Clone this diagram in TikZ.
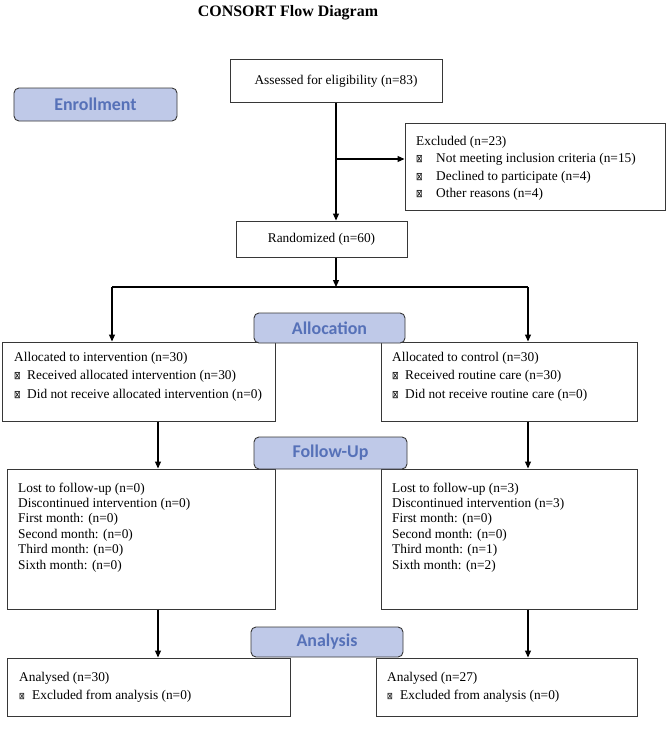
\documentclass[tikz,border=0pt]{standalone}
\usepackage{fontspec}
\setmainfont{Liberation Serif}
\newfontfamily\labfont{Carlito}
\newfontfamily\symfont{DejaVu Sans}
\usetikzlibrary{arrows.meta}
\definecolor{labfill}{RGB}{191,201,232}
\definecolor{labtext}{RGB}{86,113,184}
\definecolor{boxline}{RGB}{55,55,55}
\newcommand{\myxbox}{{\symfont\fontsize{11}{11}\selectfont\scalebox{0.72}[1]{⊠}}}
\newcommand{\smxbox}{{\symfont\fontsize{9.5}{9.5}\selectfont\scalebox{0.72}[1]{⊠}}}
\begin{document}
\begin{tikzpicture}[x=1bp,y=-1bp,
  box/.style={draw=boxline, line width=1bp, rectangle, inner sep=0},
  lab/.style={draw=boxline, fill=labfill, rounded corners=5bp, line width=0.9bp, inner sep=0,
    font=\labfont\bfseries\fontsize{18}{18}\selectfont, text=labtext},
  txt/.style={anchor=base west, inner sep=0, font=\fontsize{13.4}{15}\selectfont},
  ctxt/.style={inner sep=0, font=\fontsize{13.4}{15}\selectfont},
  arr/.style={-{Triangle[length=7bp,width=6bp]}, line width=1.2bp},
  ln/.style={line width=1.2bp}
]
\fill[white] (0,0) rectangle (666,744);
\useasboundingbox (0,0) rectangle (666,744);

% title
\node[inner sep=0, font=\bfseries\fontsize{16}{16}\selectfont] (title) at (288,13) {CONSORT Flow Diagram};

% boxes
\node[box, minimum width=212bp, minimum height=42bp] (assess) at (336,81) {};
\node[ctxt] (assessT) at (assess.center) {Assessed for eligibility (n=83)};

\node[box, minimum width=260bp, minimum height=87bp] (excl) at (535,166.5) {};
\node[txt] (ex1) at (416,145) {Excluded (n=23)};
\node[txt] (ex2) at (416,162.5) {\makebox[20bp][l]{\myxbox}Not meeting inclusion criteria (n=15)};
\node[txt] (ex3) at (416,180) {\makebox[20bp][l]{\myxbox}Declined to participate (n=4)};
\node[txt] (ex4) at (416,197.5) {\makebox[20bp][l]{\myxbox}Other reasons (n=4)};

\node[box, minimum width=171bp, minimum height=36bp] (rand) at (321.5,239) {};
\node[ctxt] (randT) at (rand.center) {Randomized (n=60)};

\node[box, minimum width=272bp, minimum height=79bp] (alL) at (139,381.5) {};
\node[txt] (al1) at (14,361) {Allocated to intervention (n=30)};
\node[txt] (al2) at (14,379.5) {\makebox[13bp][l]{\myxbox}Received allocated intervention (n=30)};
\node[txt] (al3) at (14,398) {\makebox[13bp][l]{\myxbox}Did not receive allocated intervention (n=0)};

\node[box, minimum width=256bp, minimum height=79bp] (alR) at (509,381.5) {};
\node[txt] (ar1) at (392,361) {Allocated to control (n=30)};
\node[txt] (ar2) at (392,379.5) {\makebox[13bp][l]{\myxbox}Received routine care (n=30)};
\node[txt] (ar3) at (392,398) {\makebox[13bp][l]{\myxbox}Did not receive routine care (n=0)};

\node[box, minimum width=267bp, minimum height=140bp] (fuL) at (141.5,539) {};
\node[txt] (fl1) at (18,492) {Lost to follow-up (n=0)};
\node[txt] (fl2) at (18,507.4) {Discontinued intervention (n=0)};
\node[txt] (fl3) at (18,522.8) {First month: (n=0)};
\node[txt] (fl4) at (18,538.2) {Second month: (n=0)};
\node[txt] (fl5) at (18,553.6) {Third month: (n=0)};
\node[txt] (fl6) at (18,569) {Sixth month: (n=0)};

\node[box, minimum width=256bp, minimum height=140bp] (fuR) at (509,539) {};
\node[txt] (fr1) at (392,492) {Lost to follow-up (n=3)};
\node[txt] (fr2) at (392,507.4) {Discontinued intervention (n=3)};
\node[txt] (fr3) at (392,522.8) {First month: (n=0)};
\node[txt] (fr4) at (392,538.2) {Second month: (n=0)};
\node[txt] (fr5) at (392,553.6) {Third month: (n=1)};
\node[txt] (fr6) at (392,569) {Sixth month: (n=2)};

\node[box, minimum width=282bp, minimum height=58bp] (anL) at (149,687) {};
\node[txt] (nl1) at (19,681) {Analysed (n=30)};
\node[txt] (nl2) at (19,699) {\makebox[13bp][l]{\smxbox}Excluded from analysis (n=0)};

\node[box, minimum width=261bp, minimum height=58bp] (anR) at (506.5,687) {};
\node[txt] (nr1) at (387,681) {Analysed (n=27)};
\node[txt] (nr2) at (387,699) {\makebox[13bp][l]{\smxbox}Excluded from analysis (n=0)};

% connectors
\coordinate (exA) at (336,159);
\coordinate (split) at (336,287);
\coordinate (sL) at (112,287);
\coordinate (sR) at (528,287);
\coordinate (cL) at (158,0);
\coordinate (cR) at (528,0);
\draw[ln] (assess.south) -- (exA);
\draw[arr] (exA) -- (exA |- rand.north);
\draw[arr] (exA) -- (exA -| excl.west);
\draw[arr] (split |- rand.south) -- (split);
\draw[ln] (sL) -- (sR);
\draw[arr] (sL) -- (sL |- alL.north);
\draw[arr] (sR) -- (sR |- alR.north);
\draw[arr] (cL |- alL.south) -- (cL |- fuL.north);
\draw[arr] (cR |- alR.south) -- (cR |- fuR.north);
\draw[arr] (cL |- fuL.south) -- (cL |- anL.north);
\draw[arr] (cR |- fuR.south) -- (cR |- anR.north);

% stage labels
\node[lab, minimum width=163bp, minimum height=33bp] (enroll) at (95.5,104.5) {Enrollment};
\node[lab, minimum width=151bp, minimum height=30bp] (alloc) at (329.5,328) {Allocation};
\node[lab, minimum width=153bp, minimum height=32bp] (follow) at (330.5,453) {Follow-Up};
\node[lab, minimum width=152bp, minimum height=30bp] (analysis) at (327,642) {Analysis};
\end{tikzpicture}
\end{document}
